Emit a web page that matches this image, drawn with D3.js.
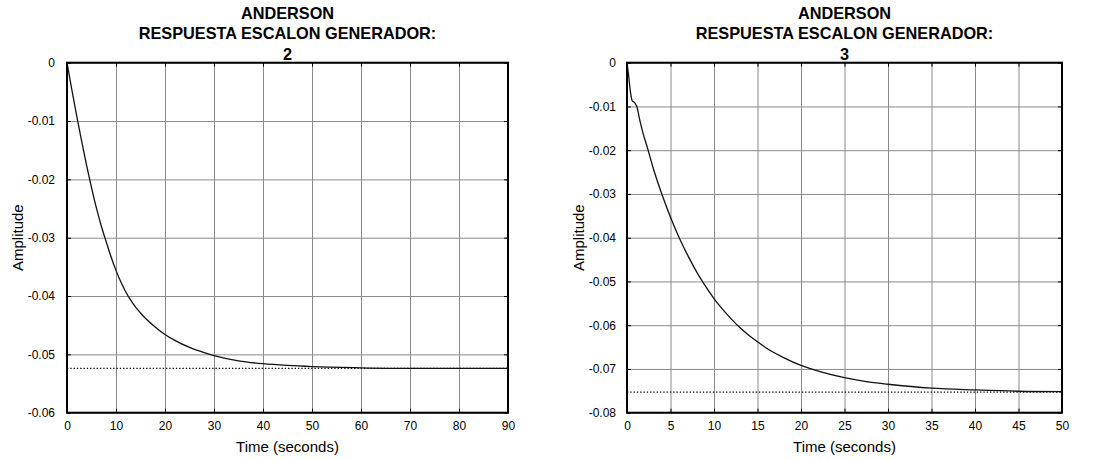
<!DOCTYPE html>
<html>
<head>
<meta charset="utf-8">
<script src="https://cdn.jsdelivr.net/npm/d3@7"></script>
<style>
  body { margin: 0; background: #fff; }
  svg { display: block; font-family: "Liberation Sans", Arial, sans-serif; }
</style>
</head>
<body>
<svg id="chart" width="1097" height="460"></svg>
<script>
// ---- Data ----
const titleLines = ["ANDERSON", "RESPUESTA ESCALON GENERADOR:"];
const plotIds = ["2", "3"];

const leftTime = [0, 1, 2, 3, 4, 5, 6, 7, 8, 9, 10, 11, 12, 13, 14, 15, 16, 18, 20, 22, 25, 28, 30, 35, 40, 45, 50, 60, 70, 80, 90];
const leftAmp  = [0, -0.0047, -0.0092, -0.0135, -0.0176, -0.0214, -0.0249, -0.0280, -0.0307, -0.0333, -0.0356, -0.0376, -0.0393, -0.0407, -0.0419, -0.0429, -0.0438, -0.0453, -0.0466, -0.0476, -0.0488, -0.0497, -0.0502, -0.0511, -0.0516, -0.0519, -0.0521, -0.0523, -0.0524, -0.0524, -0.0524];
const leftSteady = -0.0524;

const rightTime = [0, 0.2, 0.4, 0.6, 0.9, 1.2, 1.4, 1.8, 2.4, 3, 4, 5, 6, 7, 8, 9, 10, 11, 12, 13, 14, 15, 16, 18, 20, 22.5, 25, 27.5, 30, 35, 40, 45, 50];
const rightAmp  = [0, -0.0032, -0.0068, -0.0087, -0.0092, -0.0105, -0.0125, -0.0158, -0.0198, -0.0240, -0.0300, -0.0353, -0.0400, -0.0441, -0.0478, -0.0510, -0.0539, -0.0564, -0.0586, -0.0606, -0.0623, -0.0638, -0.0652, -0.0674, -0.0692, -0.0708, -0.0720, -0.0729, -0.0735, -0.0744, -0.0748, -0.0751, -0.0752];
const rightSteady = -0.0753;

const leftXTicks  = [0, 10, 20, 30, 40, 50, 60, 70, 80, 90];
const leftYTicks  = [0, -0.01, -0.02, -0.03, -0.04, -0.05, -0.06];
const rightXTicks = [0, 5, 10, 15, 20, 25, 30, 35, 40, 45, 50];
const rightYTicks = [0, -0.01, -0.02, -0.03, -0.04, -0.05, -0.06, -0.07, -0.08];

const xLabel = "Time (seconds)";
const yLabel = "Amplitude";

// ---- Layout ----
const svg = d3.select("#chart");
const panels = [
  { id: plotIds[0], t: leftTime, v: leftAmp, ss: leftSteady, xt: leftXTicks, yt: leftYTicks,
    x0: 67, x1: 508, y0: 62.7, y1: 412.7, ylabX: 18, ygap: 12 },
  { id: plotIds[1], t: rightTime, v: rightAmp, ss: rightSteady, xt: rightXTicks, yt: rightYTicks,
    x0: 627, x1: 1062, y0: 62.7, y1: 412.7, ylabX: 579, ygap: 11 }
];

const fmtY = d => d === 0 ? "0" : d.toFixed(2);

panels.forEach(p => {
  const x = d3.scaleLinear().domain([p.xt[0], p.xt[p.xt.length - 1]]).range([p.x0, p.x1]);
  const y = d3.scaleLinear().domain([p.yt[p.yt.length - 1], p.yt[0]]).range([p.y1, p.y0]);
  const g = svg.append("g");
  const w = p.x1 - p.x0, h = p.y1 - p.y0;

  // grid
  const gx = g.append("g").attr("transform", `translate(0,${p.y1})`)
    .call(d3.axisBottom(x).tickValues(p.xt).tickSize(-h).tickFormat(""));
  gx.select(".domain").remove();
  gx.selectAll("line").attr("stroke", "#8a8a8a").attr("stroke-width", 1);
  const gy = g.append("g").attr("transform", `translate(${p.x0},0)`)
    .call(d3.axisLeft(y).tickValues(p.yt).tickSize(-w).tickFormat(""));
  gy.select(".domain").remove();
  gy.selectAll("line").attr("stroke", "#8a8a8a").attr("stroke-width", 1);

  // inner ticks (black)
  [[d3.axisBottom, p.y1], [d3.axisTop, p.y0]].forEach(([ax, pos]) => {
    const a = g.append("g").attr("transform", `translate(0,${pos})`)
      .call(ax(x).tickValues(p.xt).tickSize(-4).tickFormat(""));
    a.select(".domain").remove();
    a.selectAll("line").attr("stroke", "#000");
  });
  [[d3.axisLeft, p.x0], [d3.axisRight, p.x1]].forEach(([ax, pos]) => {
    const a = g.append("g").attr("transform", `translate(${pos},0)`)
      .call(ax(y).tickValues(p.yt).tickSize(-4).tickFormat(""));
    a.select(".domain").remove();
    a.selectAll("line").attr("stroke", "#000");
  });

  // tick labels
  const lx = g.append("g").attr("transform", `translate(0,${p.y1})`)
    .call(d3.axisBottom(x).tickValues(p.xt).tickSize(0).tickPadding(9).tickFormat(d3.format("d")));
  lx.select(".domain").remove();
  lx.selectAll("text").attr("font-size", 12).attr("fill", "#000")
    .attr("font-family", "'Liberation Sans', Arial, sans-serif");
  const ly = g.append("g").attr("transform", `translate(${p.x0},0)`)
    .call(d3.axisLeft(y).tickValues(p.yt).tickSize(0).tickPadding(p.ygap).tickFormat(fmtY));
  ly.select(".domain").remove();
  ly.selectAll("text").attr("font-size", 12).attr("fill", "#000")
    .attr("font-family", "'Liberation Sans', Arial, sans-serif");

  // steady-state dotted line
  g.append("line")
    .attr("x1", x(p.xt[0])).attr("x2", x(p.xt[p.xt.length - 1]))
    .attr("y1", y(p.ss)).attr("y2", y(p.ss))
    .attr("stroke", "#000").attr("stroke-width", 1.2).attr("stroke-dasharray", "1.3,2");

  // response curve
  const pts = p.t.map((t, i) => [t, p.v[i]]);
  g.append("path").datum(pts)
    .attr("fill", "none").attr("stroke", "#111").attr("stroke-width", 1.3)
    .attr("d", d3.line().x(d => x(d[0])).y(d => y(d[1])).curve(d3.curveMonotoneX));

  // frame
  g.append("rect").attr("x", p.x0).attr("y", p.y0).attr("width", w).attr("height", h)
    .attr("fill", "none").attr("stroke", "#000").attr("stroke-width", 2);

  // titles
  const cx = (p.x0 + p.x1) / 2;
  const lines = [titleLines[0], titleLines[1], p.id];
  const baselines = [19.3, 39.3, 60];
  lines.forEach((txt, i) => {
    g.append("text").attr("x", cx).attr("y", baselines[i])
      .attr("text-anchor", "middle").attr("font-weight", "bold").attr("font-size", 16.3)
      .attr("fill", "#000").text(txt);
  });

  // axis labels
  g.append("text").attr("x", cx).attr("y", 452)
    .attr("text-anchor", "middle").attr("font-size", 15).attr("fill", "#000").text(xLabel);
  g.append("text")
    .attr("transform", `translate(${p.ylabX},${(p.y0 + p.y1) / 2}) rotate(-90)`)
    .attr("text-anchor", "middle").attr("dy", "0.35em")
    .attr("font-size", 15).attr("fill", "#000").text(yLabel);
});
</script>
</body>
</html>
